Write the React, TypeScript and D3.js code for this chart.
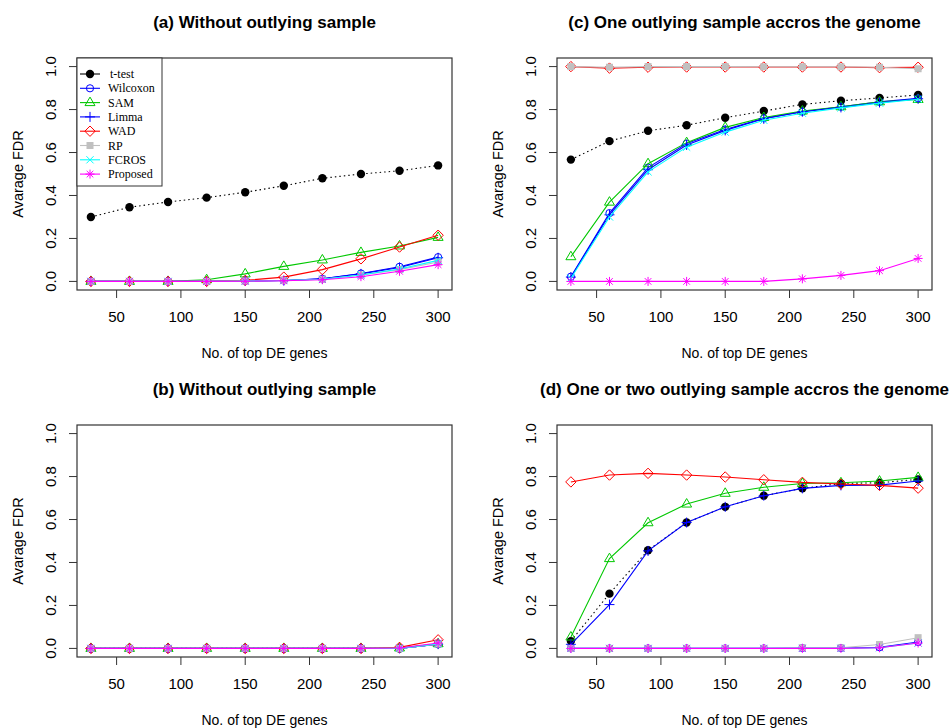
import React, { useEffect, useRef } from "react";
import * as d3 from "d3";

// number of top DE genes on the x axis
const topGenes = [30, 60, 90, 120, 150, 180, 210, 240, 270, 300];
const methodNames = ["t-test", "Wilcoxon", "SAM", "Limma", "WAD", "RP", "FCROS", "Proposed"];
const panelTitles = [
  "(a) Without outlying sample",
  "(c) One outlying sample accros the genome",
  "(b) Without outlying sample",
  "(d) One or two outlying sample accros the genome",
];
const xTicks = [50, 100, 150, 200, 250, 300];
const yTicks = [0, 0.2, 0.4, 0.6, 0.8, 1.0];

// (a) without outlying sample
const tTestA = [0.3, 0.345, 0.37, 0.39, 0.415, 0.445, 0.48, 0.5, 0.515, 0.54];
const wilcoxonA = [0, 0, 0, 0, 0.002, 0.004, 0.012, 0.037, 0.068, 0.113];
const samA = [0, 0, 0, 0.008, 0.035, 0.07, 0.1, 0.135, 0.165, 0.205];
const limmaA = [0, 0, 0, 0, 0.002, 0.004, 0.012, 0.035, 0.065, 0.11];
const wadA = [0, 0, 0, 0, 0.005, 0.02, 0.055, 0.105, 0.16, 0.215];
const rpA = [0, 0, 0, 0, 0.002, 0.004, 0.01, 0.03, 0.055, 0.09];
const fcrosA = [0, 0, 0, 0, 0.002, 0.004, 0.01, 0.03, 0.058, 0.098];
const proposedA = [0, 0, 0, 0, 0.001, 0.003, 0.008, 0.022, 0.047, 0.078];

// (c) one outlying sample
const tTestC = [0.567, 0.653, 0.701, 0.727, 0.762, 0.793, 0.824, 0.841, 0.854, 0.868];
const wilcoxonC = [0.022, 0.318, 0.53, 0.642, 0.707, 0.759, 0.79, 0.813, 0.836, 0.852];
const samC = [0.115, 0.369, 0.548, 0.646, 0.717, 0.763, 0.793, 0.813, 0.836, 0.847];
const limmaC = [0.02, 0.31, 0.52, 0.635, 0.703, 0.757, 0.79, 0.81, 0.833, 0.85];
const wadC = [1.0, 0.993, 0.997, 0.998, 0.998, 0.998, 0.998, 0.998, 0.995, 0.997];
const rpC = [1.0, 0.997, 1.0, 1.0, 1.0, 0.999, 0.999, 0.999, 0.997, 0.99];
const fcrosC = [0.015, 0.3, 0.51, 0.625, 0.695, 0.75, 0.783, 0.808, 0.83, 0.848];
const proposedC = [0, 0, 0, 0, 0, 0, 0.012, 0.028, 0.05, 0.107];

// (b) without outlying sample
const tTestB = [0, 0, 0, 0, 0, 0, 0, 0, 0, 0.02];
const wilcoxonB = [0, 0, 0, 0, 0, 0, 0, 0, 0, 0.02];
const samB = [0, 0, 0, 0, 0, 0, 0, 0, 0.002, 0.022];
const limmaB = [0, 0, 0, 0, 0, 0, 0, 0, 0, 0.02];
const wadB = [0, 0, 0, 0, 0, 0, 0, 0, 0.005, 0.04];
const rpB = [0, 0, 0, 0, 0, 0, 0, 0, 0, 0.02];
const fcrosB = [0, 0, 0, 0, 0, 0, 0, 0, 0, 0.022];
const proposedB = [0, 0, 0, 0, 0, 0, 0, 0, 0.002, 0.025];

// (d) one or two outlying samples
const tTestD = [0.034, 0.255, 0.457, 0.586, 0.659, 0.711, 0.745, 0.768, 0.771, 0.787];
const wilcoxonD = [0, 0, 0, 0, 0, 0, 0.002, 0.002, 0.005, 0.03];
const samD = [0.053, 0.418, 0.585, 0.672, 0.722, 0.75, 0.768, 0.771, 0.779, 0.796];
const limmaD = [0.019, 0.204, 0.454, 0.586, 0.659, 0.711, 0.745, 0.759, 0.76, 0.779];
const wadD = [0.775, 0.807, 0.815, 0.807, 0.798, 0.785, 0.773, 0.765, 0.759, 0.746];
const rpD = [0, 0, 0, 0, 0, 0, 0.003, 0.003, 0.018, 0.05];
const fcrosD = [0, 0, 0, 0, 0, 0, 0, 0, 0.003, 0.025];
const proposedD = [0, 0, 0, 0, 0, 0, 0, 0, 0.003, 0.025];

const panelSeries = [
  [tTestA, wilcoxonA, samA, limmaA, wadA, rpA, fcrosA, proposedA],
  [tTestC, wilcoxonC, samC, limmaC, wadC, rpC, fcrosC, proposedC],
  [tTestB, wilcoxonB, samB, limmaB, wadB, rpB, fcrosB, proposedB],
  [tTestD, wilcoxonD, samD, limmaD, wadD, rpD, fcrosD, proposedD],
];

const colors = ["#000000", "#0000ff", "#00c800", "#0000ff", "#ff0000", "#c0c0c0", "#00ffff", "#ff00ff"];
const shapes = ["dot", "circle", "triangle", "plus", "diamond", "square", "cross", "star"];

const W = 952;
const H = 728;
const plotW = 375;
const plotH = 232;
const origins = [
  [77, 58],
  [557, 58],
  [77, 425],
  [557, 425],
];

const sans = "Liberation Sans, Arial, sans-serif";
const serif = "Liberation Serif, Times New Roman, serif";

const drawMarker = (g: any, shape: string, x: number, y: number, color: string) => {
  if (shape === "dot") {
    g.append("circle").attr("cx", x).attr("cy", y).attr("r", 4.2).attr("fill", color);
  } else if (shape === "circle") {
    g.append("circle").attr("cx", x).attr("cy", y).attr("r", 3.6)
      .attr("fill", "none").attr("stroke", color);
  } else if (shape === "triangle") {
    g.append("path").attr("d", `M${x},${y - 5.5}L${x + 5},${y + 3}L${x - 5},${y + 3}Z`)
      .attr("fill", "none").attr("stroke", color);
  } else if (shape === "plus") {
    g.append("path").attr("d", `M${x - 5},${y}H${x + 5}M${x},${y - 5}V${y + 5}`)
      .attr("stroke", color);
  } else if (shape === "diamond") {
    g.append("path").attr("d", `M${x},${y - 5.2}L${x + 5.2},${y}L${x},${y + 5.2}L${x - 5.2},${y}Z`)
      .attr("fill", "none").attr("stroke", color);
  } else if (shape === "square") {
    g.append("rect").attr("x", x - 3.5).attr("y", y - 3.5).attr("width", 7).attr("height", 7)
      .attr("fill", color);
  } else if (shape === "cross") {
    g.append("path").attr("d", `M${x - 3.6},${y - 3.6}L${x + 3.6},${y + 3.6}M${x - 3.6},${y + 3.6}L${x + 3.6},${y - 3.6}`)
      .attr("stroke", color);
  } else if (shape === "star") {
    g.append("path").attr("d",
      `M${x - 4.5},${y}H${x + 4.5}M${x},${y - 4.5}V${y + 4.5}` +
      `M${x - 3.3},${y - 3.3}L${x + 3.3},${y + 3.3}M${x - 3.3},${y + 3.3}L${x + 3.3},${y - 3.3}`)
      .attr("stroke", color);
  }
};

const App = () => {
  const ref = useRef<SVGSVGElement>(null);

  useEffect(() => {
    const svg = d3.select(ref.current);
    svg.selectAll("*").remove();

    // R style: 4% padding around data range
    const x = d3.scaleLinear().domain([19.2, 310.8]).range([0, plotW]);
    const y = d3.scaleLinear().domain([-0.04, 1.04]).range([plotH, 0]);
    const line = d3.line<number>()
      .x((d, i) => x(topGenes[i]))
      .y(d => y(d));

    panelSeries.forEach((series, p) => {
      const [ox, oy] = origins[p];
      const g = svg.append("g").attr("transform", `translate(${ox},${oy})`);

      // title
      g.append("text")
        .attr("x", plotW / 2).attr("y", -30)
        .attr("text-anchor", "middle")
        .style("font-family", sans).style("font-weight", "bold").style("font-size", "17px")
        .text(panelTitles[p]);

      // x axis ticks
      xTicks.forEach(t => {
        g.append("line").attr("x1", x(t)).attr("x2", x(t))
          .attr("y1", plotH).attr("y2", plotH + 8).attr("stroke", "#333");
        g.append("text").attr("x", x(t)).attr("y", plotH + 32)
          .attr("text-anchor", "middle")
          .style("font-family", sans).style("font-size", "15px")
          .text(t);
      });
      g.append("text").attr("x", plotW / 2).attr("y", plotH + 68)
        .attr("text-anchor", "middle")
        .style("font-family", sans).style("font-size", "14px")
        .text("No. of top DE genes");

      // y axis ticks
      yTicks.forEach(t => {
        g.append("line").attr("x1", -8).attr("x2", 0)
          .attr("y1", y(t)).attr("y2", y(t)).attr("stroke", "#333");
        g.append("text")
          .attr("transform", `translate(-21,${y(t)}) rotate(-90)`)
          .attr("text-anchor", "middle")
          .style("font-family", sans).style("font-size", "15px")
          .text(d3.format(".1f")(t));
      });
      g.append("text")
        .attr("transform", `translate(-54,${plotH / 2}) rotate(-90)`)
        .attr("text-anchor", "middle")
        .style("font-family", sans).style("font-size", "14.5px")
        .text("Avarage FDR");

      // series
      series.forEach((vals, m) => {
        g.append("path")
          .attr("d", line(vals))
          .attr("fill", "none")
          .attr("stroke", colors[m])
          .attr("stroke-width", 1.1)
          .attr("stroke-dasharray", m === 0 ? "1.5,3" : null);
        vals.forEach((v, i) => drawMarker(g, shapes[m], x(topGenes[i]), y(v), colors[m]));
      });

      // frame
      g.append("rect").attr("width", plotW).attr("height", plotH)
        .attr("fill", "none").attr("stroke", "#333").attr("stroke-width", 1.2);

      // legend only in (a)
      if (p === 0) {
        const lg = g.append("g");
        lg.append("rect").attr("x", 0).attr("y", 0).attr("width", 85).attr("height", 128)
          .attr("fill", "white").attr("stroke", "#333");
        methodNames.forEach((name, m) => {
          const ly = 16 + m * 14.3;
          lg.append("line").attr("x1", 3).attr("x2", 23).attr("y1", ly).attr("y2", ly)
            .attr("stroke", colors[m]).attr("stroke-width", 1.1);
          drawMarker(lg, shapes[m], 13, ly, colors[m]);
          lg.append("text").attr("x", m === 0 ? 33 : 31).attr("y", ly + 4)
            .style("font-family", serif).style("font-size", "12px")
            .text(name);
        });
      }
    });
  }, []);

  return (
    <svg ref={ref} width={W} height={H}
      style={{ position: "absolute", left: 0, top: 0, background: "white" }} />
  );
};

export default App;
